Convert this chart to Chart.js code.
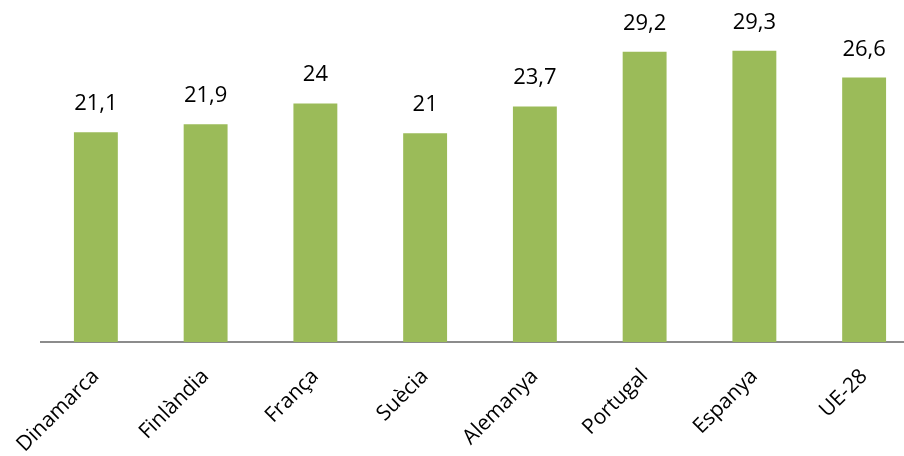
<!DOCTYPE html>
<html>
<head>
<meta charset="utf-8">
<script src="https://cdn.jsdelivr.net/npm/chart.js@4/dist/chart.umd.min.js"></script>
<style>
html,body{margin:0;padding:0;background:#fff;overflow:hidden;}
#wrap{position:relative;width:919px;height:456px;}
</style>
</head>
<body>
<div id="wrap"><canvas id="c"></canvas></div>
<script>
const categories = ['Dinamarca','Finlàndia','França','Suècia','Alemanya','Portugal','Espanya','UE-28'];
const values = [21.1, 21.9, 24, 21, 23.7, 29.2, 29.3, 26.6];
const valueLabels = ['21,1','21,9','24','21','23,7','29,2','29,3','26,6'];

const FONT = '"Open Sans", sans-serif';

const labelPlugin = {
  id: 'valueLabels',
  afterDatasetsDraw(chart) {
    const ctx = chart.ctx;
    const meta = chart.getDatasetMeta(0);
    ctx.save();
    ctx.fillStyle = '#000';
    ctx.font = '22px ' + FONT;
    ctx.textAlign = 'center';
    ctx.textBaseline = 'alphabetic';
    meta.data.forEach((bar, i) => {
      ctx.fillText(valueLabels[i], bar.x, bar.y - 22);
    });
    ctx.restore();
  }
};

new Chart(document.getElementById('c'), {
  type: 'bar',
  data: {
    labels: categories,
    datasets: [{
      data: values,
      backgroundColor: '#9BBB59',
      borderWidth: 0,
      categoryPercentage: 1.0,
      barPercentage: 0.4
    }]
  },
  options: {
    responsive: true,
    maintainAspectRatio: false,
    animation: false,
    layout: { padding: { left: 41, right: 0, top: 0, bottom: 0 } },
    plugins: { legend: { display: false }, tooltip: { enabled: false } },
    scales: {
      x: {
        grid: { display: false, drawTicks: false },
        border: { display: true, color: '#8c8c8c', width: 2 },
        ticks: {
          color: '#000',
          font: { family: FONT, size: 21 },
          minRotation: 45,
          maxRotation: 45,
          padding: 22,
          autoSkip: false
        },
        afterFit(scale) {
          scale.height = 114;
          scale.paddingLeft = 0;
          scale.paddingRight = 0;
        }
      },
      y: {
        display: false,
        min: 0,
        max: 34.4
      }
    }
  },
  plugins: [labelPlugin]
});
</script>
</body>
</html>
